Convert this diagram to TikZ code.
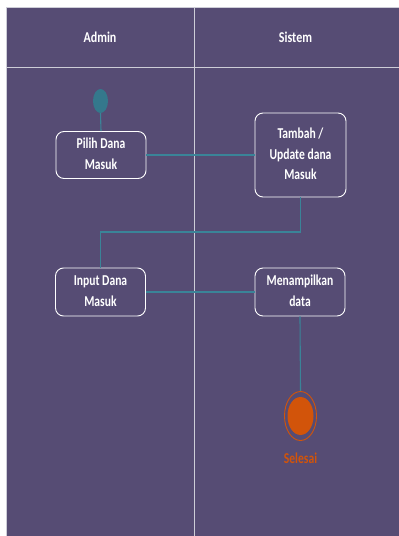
\documentclass[tikz,border=0pt]{standalone}
\usepackage{fontspec}
\usepackage{graphicx}
\setmainfont{Carlito}
\usetikzlibrary{shapes.geometric}
\definecolor{bgpurple}{RGB}{86,76,116}
\definecolor{conn}{RGB}{58,132,152}
\definecolor{framec}{RGB}{205,205,215}
\definecolor{endorange}{RGB}{210,84,10}
\definecolor{startteal}{RGB}{52,120,140}
\newcommand\vst[1]{\scalebox{1}[1.3]{\begin{tabular}{@{}c@{}}#1\end{tabular}}}
\tikzset{
  actbox/.style={draw=white, line width=0.9pt, rounded corners=8pt, fill=bgpurple,
    text=white, font=\fontsize{11.6}{15.5}\selectfont\bfseries, inner sep=0pt, align=center},
  flow/.style={draw=conn, line width=1.1pt},
  lane/.style={draw=framec, line width=0.9pt},
  hdr/.style={text=white, font=\fontsize{12}{14}\selectfont\bfseries, inner sep=0pt}
}
\begin{document}
\begin{tikzpicture}[x=1pt,y=-1pt]
\useasboundingbox (0,0) rectangle (399,536);
\fill[white] (0,0) rectangle (399,536);
\begin{scope}
\clip (0,0) rectangle (399,536);
\fill[bgpurple] (6,7.5) rectangle (401,538);
\draw[lane] (6,7.5) rectangle (401,538);
\draw[lane] (6,67) -- (401,67);
\draw[lane] (194.5,7.5) -- (194.5,538);
\end{scope}
\node[hdr] (hadmin) at (100,37.5) {\scalebox{1}[1.25]{Admin}};
\node[hdr] (hsistem) at (295.5,37.5) {\scalebox{1}[1.25]{Sistem}};
% nodes
\node[ellipse, fill=startteal, minimum width=15pt, minimum height=24pt, inner sep=0pt] (start) at (100.5,101) {};
\node[actbox, minimum width=90pt, minimum height=47pt] (pilih) at (101,155) {\vst{Pilih Dana\\Masuk}};
\node[actbox, minimum width=91pt, minimum height=84pt] (tambah) at (300.5,155) {\vst{Tambah /\\Update dana\\Masuk}};
\node[actbox, minimum width=90pt, minimum height=48pt] (input) at (100.5,292) {\vst{Input Dana\\Masuk}};
\node[actbox, minimum width=90pt, minimum height=48pt] (tampil) at (300,292) {\vst{Menampilkan\\data}};
\node[ellipse, draw=endorange, line width=0.9pt, minimum width=32pt, minimum height=49pt, inner sep=0pt] (endo) at (300.5,416) {};
\node[ellipse, fill=endorange, minimum width=26pt, minimum height=38pt, inner sep=0pt] (endi) at (300.5,416) {};
\node[text=endorange, font=\fontsize{11.6}{14}\selectfont\bfseries, inner sep=0pt] (sel) at (300.5,458) {\scalebox{1}[1.3]{Selesai}};
\coordinate (turn) at (200,232);
% connectors
\draw[flow] (start.south) -- (pilih.north);
\draw[flow] (pilih.east) -- (tambah.west);
\draw[flow] (tambah.south) |- (turn) -| (input.north);
\draw[flow] (input.east) -- (tampil.west);
\draw[flow] (tampil.south) -- (endo.north);
\end{tikzpicture}
\end{document}
